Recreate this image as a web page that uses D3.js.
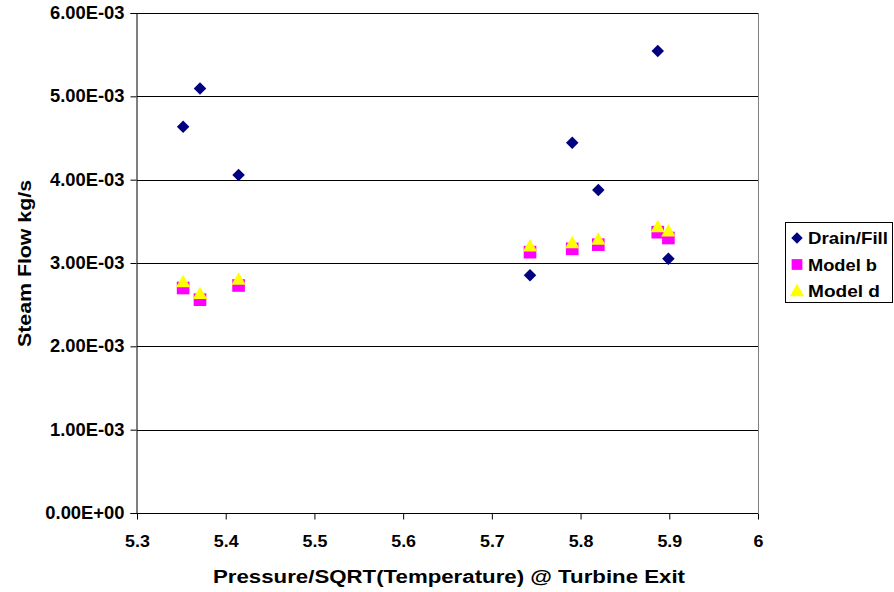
<!DOCTYPE html>
<html>
<head>
<meta charset="utf-8">
<script src="https://cdn.jsdelivr.net/npm/d3@7"></script>
<style>
  html, body { margin: 0; padding: 0; background: #fff; }
  svg { display: block; font-family: "Liberation Sans", Arial, sans-serif; font-weight: bold; }
</style>
</head>
<body>
<svg id="chart" width="894" height="592"></svg>
<script>
// Turbine exit flow parameter (x) for each test point
const pressureParam = [5.352, 5.371, 5.4145, 5.743, 5.7906, 5.820, 5.887, 5.899];
// Measured steam flow from drain/fill tests, kg/s
const drainFill = [4.636e-3, 5.095e-3, 4.056e-3, 2.852e-3, 4.444e-3, 3.876e-3, 5.544e-3, 3.052e-3];
// Model predictions, kg/s
const modelB = [2.70e-3, 2.56e-3, 2.73e-3, 3.13e-3, 3.17e-3, 3.22e-3, 3.37e-3, 3.30e-3];
const modelD = [2.77e-3, 2.63e-3, 2.80e-3, 3.20e-3, 3.24e-3, 3.28e-3, 3.43e-3, 3.38e-3];

const xTicks = [5.3, 5.4, 5.5, 5.6, 5.7, 5.8, 5.9, 6];
const yTicks = [0, 1e-3, 2e-3, 3e-3, 4e-3, 5e-3, 6e-3];
const seriesNames = ["Drain/Fill", "Model b", "Model d"];

const svg = d3.select("#chart");
const plotLeft = 137, plotRight = 758, plotTop = 13, plotBottom = 513;

const x = d3.scaleLinear().domain([5.3, 6]).range([plotLeft, plotRight]);
const y = d3.scaleLinear().domain([0, 6e-3]).range([plotBottom, plotTop]);

const fmtY = d => d === 0 ? "0.00E+00" : d.toExponential(2).replace(/e-(\d)$/, "E-0$1").replace("e", "E");

// Slightly widen a text element so its glyph run fills a given length
function stretch(sel, factor) {
  sel.each(function () {
    const len = this.getComputedTextLength();
    d3.select(this).attr("textLength", len * factor).attr("lengthAdjust", "spacingAndGlyphs");
  });
}

// Horizontal gridlines
svg.append("g")
  .selectAll("line")
  .data(yTicks.filter(d => d > 0))
  .join("line")
  .attr("x1", plotLeft).attr("x2", plotRight)
  .attr("y1", d => Math.round(y(d)) + 0.5).attr("y2", d => Math.round(y(d)) + 0.5)
  .attr("stroke", "#000").attr("stroke-width", 1);

// Plot area right border
svg.append("line")
  .attr("x1", plotRight + 0.5).attr("x2", plotRight + 0.5)
  .attr("y1", plotTop).attr("y2", plotBottom)
  .attr("stroke", "#808080");

// Axes
const xAxis = d3.axisBottom(x).tickValues(xTicks).tickSize(6).tickPadding(15)
  .tickFormat(d => d3.format("")(+d.toFixed(1)));
const yAxis = d3.axisLeft(y).tickValues(yTicks).tickSize(6).tickPadding(6).tickFormat(fmtY);

const gx = svg.append("g").attr("transform", `translate(0,${plotBottom + 0.5})`).call(xAxis);
const gy = svg.append("g").attr("transform", `translate(${plotLeft - 0.5},0)`).call(yAxis);
[gx, gy].forEach(g => {
  g.select(".domain").attr("stroke", "#000");
  g.selectAll(".tick line").attr("stroke", "#000");
  g.selectAll("text").attr("fill", "#000")
    .style("font-family", '"Liberation Sans", Arial, sans-serif').style("font-weight", "bold");
});
gx.selectAll("text").style("font-size", "17px");
gy.selectAll("text").style("font-size", "17.5px");
stretch(gx.selectAll("text"), 1.05);
stretch(gy.selectAll("text"), 1.05);
gx.select(".domain").attr("d", `M${plotLeft},0H${plotRight}`);

// Axis titles
svg.append("text")
  .attr("x", 213).attr("y", 583)
  .style("font-size", "18px")
  .attr("textLength", 472).attr("lengthAdjust", "spacingAndGlyphs")
  .text("Pressure/SQRT(Temperature) @ Turbine Exit");

svg.append("text")
  .attr("transform", `translate(31,347) rotate(-90)`)
  .style("font-size", "19px")
  .attr("textLength", 167).attr("lengthAdjust", "spacingAndGlyphs")
  .text("Steam Flow kg/s");

// Marker shapes
const diamond = d3.symbol().type(d3.symbolDiamond2).size(100);
const square = d3.symbol().type(d3.symbolSquare).size(160);
const triangle = d3.symbol().type(d3.symbolTriangle).size(90);

const points = (vals) => pressureParam.map((p, i) => ({ x: p, y: vals[i] }));

// Model b squares
svg.append("g").selectAll("path")
  .data(points(modelB)).join("path")
  .attr("d", square)
  .attr("transform", d => `translate(${x(d.x)},${y(d.y)})`)
  .attr("fill", "#ff00ff");

// Model d triangles
svg.append("g").selectAll("path")
  .data(points(modelD)).join("path")
  .attr("d", triangle)
  .attr("transform", d => `translate(${x(d.x)},${y(d.y) + 1})`)
  .attr("fill", "#ffff00");

// Drain/Fill diamonds
svg.append("g").selectAll("path")
  .data(points(drainFill)).join("path")
  .attr("d", diamond)
  .attr("transform", d => `translate(${x(d.x)},${y(d.y)})`)
  .attr("fill", "#000080");

// Legend
const legend = svg.append("g");
legend.append("rect")
  .attr("x", 785.5).attr("y", 222.5).attr("width", 107).attr("height", 80)
  .attr("fill", "#fff").attr("stroke", "#000");
const legendMarks = [diamond, square, triangle];
const legendColors = ["#000080", "#ff00ff", "#ffff00"];
const legendScales = [0.92, 0.85, 1.0];
const legendWidths = [80, 69, 72];
seriesNames.forEach((name, i) => {
  const cy = 238 + i * 26.5;
  legend.append("path")
    .attr("d", legendMarks[i])
    .attr("transform", `translate(797,${cy + (i === 2 ? 1 : 0)}) scale(${legendScales[i]})`)
    .attr("fill", legendColors[i]);
  legend.append("text")
    .attr("x", 808).attr("y", cy + 6)
    .style("font-size", "16.5px")
    .attr("textLength", legendWidths[i]).attr("lengthAdjust", "spacingAndGlyphs")
    .text(name);
});
</script>
</body>
</html>
